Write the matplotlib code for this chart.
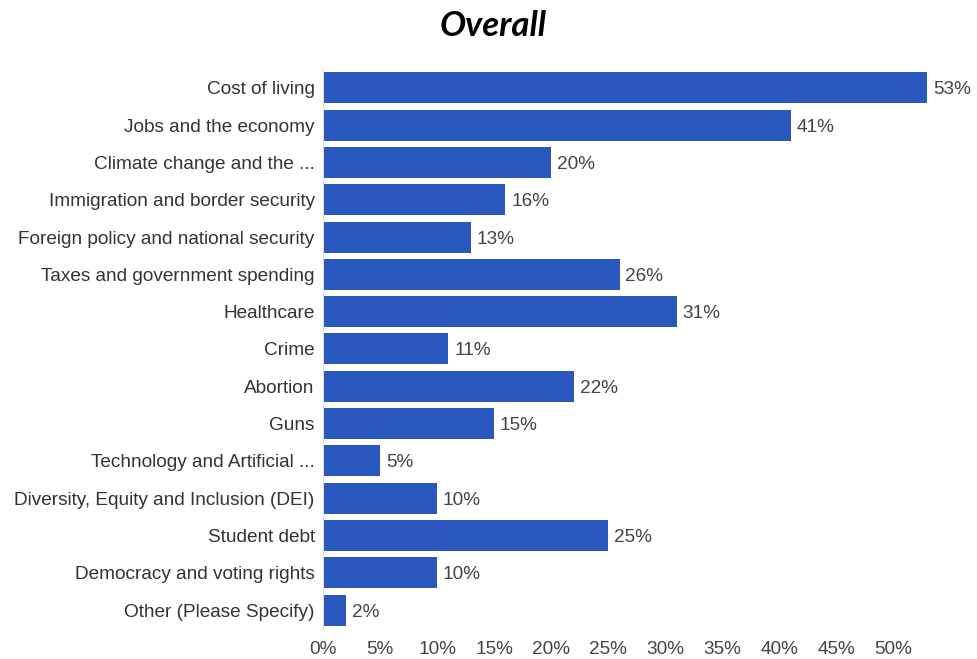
import matplotlib.pyplot as plt
from matplotlib.ticker import FuncFormatter

# Issues and share of respondents (%)
issues = [
    "Cost of living",
    "Jobs and the economy",
    "Climate change and the ...",
    "Immigration and border security",
    "Foreign policy and national security",
    "Taxes and government spending",
    "Healthcare",
    "Crime",
    "Abortion",
    "Guns",
    "Technology and Artificial ...",
    "Diversity, Equity and Inclusion (DEI)",
    "Student debt",
    "Democracy and voting rights",
    "Other (Please Specify)",
]
shares = [53, 41, 20, 16, 13, 26, 31, 11, 22, 15, 5, 10, 25, 10, 2]
ticks = [0, 5, 10, 15, 20, 25, 30, 35, 40, 45, 50]

bar_color = "#2957bd"
font = "Liberation Sans"
fsize = 13.7

fig = plt.figure(figsize=(9.77, 6.59), dpi=100)
ax = fig.add_axes([0.3306, 0.046, 0.642, 0.849])

y = range(len(issues))
ax.barh(y, shares, height=0.83, color=bar_color, zorder=2)
for yi, v in zip(y, shares):
    ax.text(v + 0.5, yi, f"{v}%", va="center_baseline", ha="left",
            fontsize=fsize, color="#444444", family=font)

ax.set_ylim(len(issues) - 0.5, -0.5)
ax.set_xlim(0, 55)
ax.set_yticks(list(y))
ax.set_yticklabels(issues, fontsize=fsize, color="#333333", family=font)
ax.set_xticks(ticks)
ax.xaxis.set_major_formatter(FuncFormatter(lambda v, p: f"{v:.0f}%"))
for lbl in ax.get_xticklabels():
    lbl.set_family(font)
    lbl.set_fontsize(fsize)
    lbl.set_color("#444444")

ax.tick_params(axis="both", length=0)
ax.tick_params(axis="y", pad=6)
ax.tick_params(axis="x", pad=9)
for side in ["top", "right", "bottom"]:
    ax.spines[side].set_visible(False)
ax.spines["left"].set_color("#dddddd")

fig.text(0.5045, 0.960, "Overall", ha="center", va="center",
         fontsize=25, fontweight="bold", fontstyle="italic", family="Lato")

fig.savefig("out.png", dpi=100)
